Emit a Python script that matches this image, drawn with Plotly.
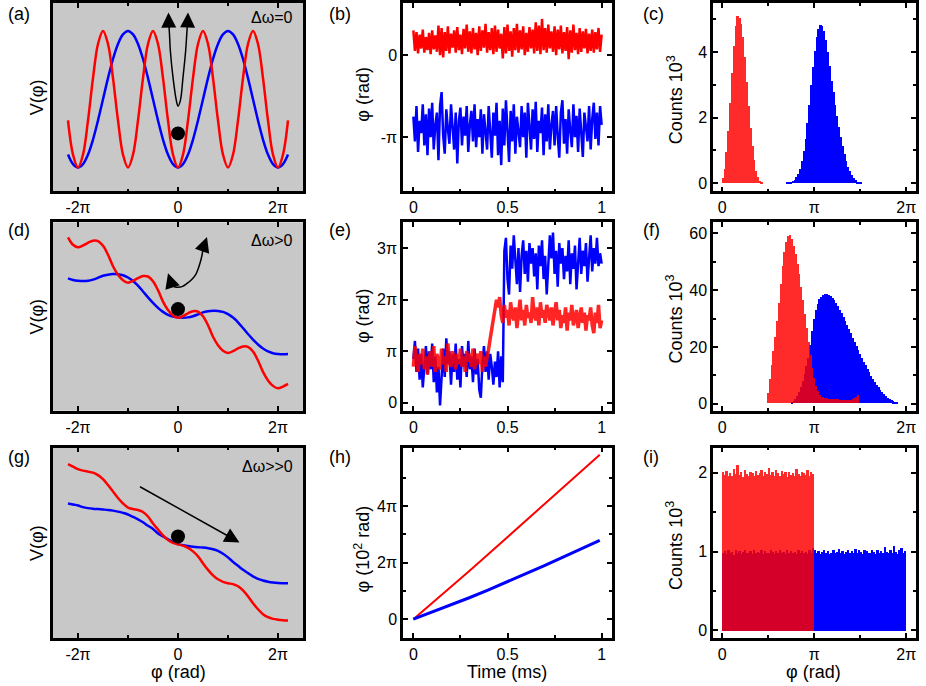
import plotly.graph_objects as go

W, H = 926, 686
FONT = "Liberation Sans, Arial, sans-serif"

# ---------------- data (phase values in units of pi) ----------------
# potential curves, sampled from phi = -2.2 pi in steps of 0.1 pi
pot_x0, pot_dx = -2.2, 0.1
pot_a_red = [0.69, 0.19,
             0, 0.19, 0.69, 1.31, 1.81, 2, 1.81, 1.31, 0.69, 0.19,
             0, 0.19, 0.69, 1.31, 1.81, 2, 1.81, 1.31, 0.69, 0.19,
             0, 0.19, 0.69, 1.31, 1.81, 2, 1.81, 1.31, 0.69, 0.19,
             0, 0.19, 0.69, 1.31, 1.81, 2, 1.81, 1.31, 0.69, 0.19,
             0, 0.19, 0.69]
pot_a_blue = [0.19, 0.05,
              0, 0.05, 0.19, 0.41, 0.69, 1, 1.31, 1.59, 1.81, 1.95,
              2, 1.95, 1.81, 1.59, 1.31, 1, 0.69, 0.41, 0.19, 0.05,
              0, 0.05, 0.19, 0.41, 0.69, 1, 1.31, 1.59, 1.81, 1.95,
              2, 1.95, 1.81, 1.59, 1.31, 1, 0.69, 0.41, 0.19, 0.05,
              0, 0.05, 0.19]
pot_d_blue = [13.29, 13.12, 13.04, 13.01, 13.04, 13.16, 13.34, 13.54, 13.65, 13.71,
              13.69, 13.59, 13.37, 13.02, 12.55, 11.97, 11.37, 10.82, 10.32, 9.92,
              9.62, 9.45, 9.37, 9.34, 9.37, 9.49, 9.67, 9.87, 9.98, 10.04,
              10.02, 9.92, 9.7, 9.35, 8.88, 8.3, 7.7, 7.15, 6.65, 6.25,
              5.95, 5.78, 5.7, 5.67, 5.7]
pot_d_red = [17.4, 16.65, 16.4, 16.58, 16.85, 17.06, 17.02, 16.55, 15.65, 14.5,
             13.65, 13.1, 12.85, 13.03, 13.3, 13.51, 13.47, 13.0, 12.1, 10.95,
             10.1, 9.55, 9.33, 9.51, 9.78, 9.99, 9.95, 9.48, 8.58, 7.43,
             6.58, 6.03, 5.8, 5.98, 6.25, 6.46, 6.42, 5.95, 5.05, 3.9,
             3.05, 2.5, 2.25, 2.43, 2.7]
pot_g_blue = [13.5, 13.4, 13.3, 13.14, 13.04, 12.98, 12.94, 12.9, 12.86, 12.79,
              12.69, 12.56, 12.4, 12.16, 11.92, 11.62, 11.27, 10.95, 10.5, 10.2,
              9.92, 9.65, 9.43, 9.32, 9.24, 9.17, 9.12, 9.08, 9.02, 8.92,
              8.75, 8.47, 8.1, 7.65, 7.25, 6.85, 6.52, 6.2, 5.95, 5.78,
              5.66, 5.58, 5.53, 5.51, 5.5]
pot_g_red = [17.45, 17.2, 16.95, 16.8, 16.7, 16.6, 16.35, 15.95, 15.35, 14.7,
             14.05, 13.5, 13.1, 12.95, 12.85, 12.65, 12.2, 11.5, 10.9, 10.3,
             9.85, 9.55, 9.4, 9.28, 9.05, 8.7, 8.2, 7.5, 6.85, 6.3,
             5.9, 5.65, 5.5, 5.42, 5.2, 4.8, 4.2, 3.5, 2.9, 2.4,
             2.1, 1.93, 1.85, 1.8, 1.77]
ball_y = [0.5, 10.2, 10.2]

# time traces, t = 0 .. 1 ms in steps of 1/120
t_dx = 1 / 120
phase_b_red = [0.30, 0.05, 0.28, 0.02, 0.25, 0.08, 0.31, 0.03, 0.22, 0.06,
               0.27, 0.01, 0.30, 0.07, 0.24, 0.04, 0.36, 0.00, 0.33, -0.03,
               0.28, 0.05, 0.35, 0.02, 0.26, 0.09, 0.30, 0.03, 0.34, 0.06,
               0.25, 0.01, 0.32, 0.08, 0.37, 0.04, 0.29, 0.02, 0.33, 0.07,
               0.27, 0.00, 0.35, 0.05, 0.30, 0.09, 0.38, 0.03, 0.28, 0.06,
               0.33, 0.01, 0.36, 0.04, 0.31, 0.08, 0.26, -0.04, 0.34, 0.02,
               0.37, 0.05, 0.29, -0.02, 0.33, 0.06, 0.38, 0.03, 0.30, 0.07,
               0.35, 0.00, 0.27, 0.04, 0.34, 0.08, 0.31, 0.02, 0.40, 0.05,
               0.36, 0.01, 0.44, 0.06, 0.33, 0.03, 0.37, 0.08, 0.29, 0.04,
               0.35, 0.00, 0.31, 0.07, 0.36, 0.02, 0.28, 0.05, 0.34, -0.05,
               0.30, 0.03, 0.37, 0.06, 0.27, 0.01, 0.33, 0.04, 0.29, 0.08,
               0.32, 0.02, 0.26, 0.05, 0.31, 0.03, 0.28, 0.07, 0.33, 0.04, 0.25]
phase_b_blue = [-0.75, -1.05, -0.62, -1.18, -0.80, -0.95, -0.60, -1.10, -0.72, -1.22,
                -0.65, -1.00, -0.58, -1.15, -0.85, -0.70, -1.28, -0.62, -0.45, -0.98,
                -1.20, -0.66, -0.90, -1.08, -0.60, -0.95, -1.15, -0.70, -1.32, -0.80,
                -0.64, -1.10, -0.75, -0.98, -0.62, -1.18, -0.85, -0.68, -1.05, -0.60,
                -1.12, -0.78, -1.00, -0.66, -1.20, -0.72, -0.95, -1.15, -0.62, -0.88,
                -1.25, -0.70, -0.98, -0.58, -1.22, -0.80, -1.34, -0.65, -1.10, -0.55,
                -0.90, -1.30, -0.68, -1.05, -0.60, -1.20, -0.75, -0.95, -1.12, -0.62,
                -1.00, -0.70, -1.25, -0.58, -0.88, -1.15, -0.66, -1.02, -0.57, -1.18,
                -0.80, -0.95, -0.64, -1.22, -0.72, -1.05, -0.60, -1.15, -0.85, -0.68,
                -1.10, -0.62, -0.98, -1.25, -0.70, -0.55, -1.08, -0.78, -1.20, -0.66,
                -0.92, -1.12, -0.60, -1.00, -0.74, -1.18, -0.65, -0.95, -1.24, -0.70,
                -0.88, -1.05, -0.62, -1.15, -0.78, -0.58, -1.02, -0.70, -1.10, -0.62, -0.85]
phase_e_blue = [0.85, 1.20, 0.60, 1.05, 0.45, 0.95, 0.30, 0.80, 1.10, 0.55,
                1.00, 0.65, 1.15, 0.40, 0.90, 0.20, 0.70, -0.05, 0.60, 1.05,
                0.50, 1.25, 0.75, 1.00, 0.35, 0.95, 0.60, 1.15, 0.45, 0.85,
                0.30, 1.10, 0.70, 0.95, 0.50, 1.20, 0.65, 0.90, 0.40, 1.05,
                0.55, 0.85, 0.25, 0.10, 0.75, 1.10, 0.60, 1.00, 0.45, 0.95,
                0.70, 0.35, 0.80, 0.50, 1.00, 0.30, 0.90, 0.40,
                2.95, 3.20, 2.40, 2.10, 3.05, 2.60, 3.25, 2.80, 2.30, 3.00,
                2.15, 2.85, 3.15, 2.50, 2.95, 2.35, 3.10, 2.70, 3.00, 2.45,
                2.90, 2.20, 3.05, 2.65, 3.15, 2.40, 2.85, 2.10, 2.60, 3.25,
                2.80, 3.30, 2.50, 2.95, 2.25, 3.10, 2.70, 3.00, 2.40, 2.85,
                2.55, 3.15, 2.30, 2.90, 2.60, 3.05, 2.20, 2.75, 3.20, 2.50,
                2.95, 2.65, 3.10, 2.35, 2.80, 3.25, 2.55, 3.00, 2.70, 3.20,
                2.65, 2.90, 2.70]
phase_e_red = [0.70, 1.10, 0.80, 0.60, 0.95, 0.75, 1.05, 0.65, 0.90, 0.55,
               0.85, 1.00, 0.70, 1.10, 0.60, 0.95, 0.80, 0.65, 1.05, 0.75,
               0.90, 0.60, 1.15, 0.80, 0.70, 1.00, 0.85, 0.65, 0.95, 0.75,
               1.05, 0.70, 0.90, 0.60, 1.00, 0.80, 0.95, 0.70, 1.05, 0.65,
               0.85, 0.95, 0.75, 1.00, 0.60, 0.90, 0.70,
               0.85, 1.05, 1.25, 1.45, 1.65, 1.85, 2.00, 1.85,
               2.05, 1.70, 1.55, 1.90, 1.65, 1.80, 1.50, 1.95, 1.70, 1.60,
               1.85, 1.45, 1.75, 2.00, 1.60, 1.80, 1.50, 1.90, 1.65, 1.75,
               1.55, 2.05, 1.70, 1.60, 1.85, 1.50, 1.95, 1.65, 1.80, 1.55,
               1.90, 1.70, 1.60, 1.85, 1.50, 1.75, 1.95, 1.60, 1.80, 1.45,
               1.70, 1.55, 1.85, 1.40, 1.75, 1.60, 1.90, 1.50, 1.70, 1.80,
               1.45, 1.65, 1.85, 1.55, 1.75, 1.40, 1.70, 1.60, 1.85, 1.50,
               1.35, 1.75, 1.55, 1.90, 1.45, 1.60]
h_dx = 0.099
phase_h_red = [0, 0.56, 1.13, 1.71, 2.29, 2.88, 3.46, 4.05, 4.64, 5.23, 5.82]
phase_h_blue = [0, 0.25, 0.5, 0.76, 1.03, 1.31, 1.6, 1.89, 2.19, 2.49, 2.79]

# histograms, bin width 0.02 pi, counts in 10^3
bin_w = 0.02
hist_c_red_x0, hist_c_blue_x0 = 0.01, 0.71
hist_c_red = [0.15, 0.45, 0.95, 1.6, 2.45, 3.35, 4.2, 4.8, 5.1, 5.05, 4.85,
              4.45, 3.85, 3.1, 2.35, 1.7, 1.15, 0.7, 0.38, 0.18, 0.07, 0.02]
hist_c_blue = [0.01, 0.02, 0.04, 0.07, 0.11, 0.18, 0.28, 0.45, 0.68, 0.98,
               1.35, 1.85, 2.4, 3.0, 3.55, 4.05, 4.45, 4.7, 4.82, 4.8,
               4.65, 4.38, 4.0, 3.58, 3.12, 2.78, 2.4, 2.05, 1.72, 1.42,
               1.15, 0.9, 0.68, 0.5, 0.36, 0.24, 0.15, 0.09, 0.05, 0.02, 0.01]
hist_f_red_x0, hist_f_blue_x0 = 0.50, 0.76
hist_f_red = [3.5, 8.5, 13.5, 18.5, 23.5, 29, 35.5, 42, 48.5, 53.5,
              57, 59, 59.4, 58, 55.5, 52.5, 49, 45.5, 41, 36.5,
              31.5, 26.5, 21.5, 17, 12.5, 9, 6, 4.2, 3.0, 2.4,
              2.1, 1.9, 1.8, 1.7, 1.6, 1.55, 1.5, 1.45, 1.4, 1.35,
              1.3, 1.3, 1.25, 1.25, 1.3, 1.35, 1.5, 1.8, 2.3, 2.8]
hist_f_blue = [0.3, 0.8, 1.6, 2.7, 4.0, 5.8, 8.0, 10.5, 13.3, 16.0,
               20.5, 25.5, 29.8, 32.8, 35, 36.6, 37.5, 38.1, 38.4, 38.5,
               38.3, 37.8, 37.1, 36.3, 35.3, 34.2, 33, 31.8, 30.5, 29.1,
               27.7, 26.2, 24.7, 23.1, 21.6, 20.1, 18.7, 17.3, 16.0, 14.7,
               13.4, 12.2, 11.0, 9.8, 8.7, 7.6, 6.6, 5.7, 4.8, 4.0,
               3.3, 2.6, 2.0, 1.5, 1.1, 0.7, 0.4, 0.2]
hist_i_x0 = 0.01
hist_i_red = [2.02, 1.98, 2.03, 1.97, 2.00, 1.96, 2.05, 1.99, 2.10, 1.98,
              2.01, 1.95, 2.04, 1.99, 1.97, 2.02, 2.00, 1.96, 2.03, 1.98,
              2.00, 2.04, 1.97, 2.01, 1.99, 2.06, 1.98, 2.02, 1.96, 2.04,
              2.00, 1.97, 2.03, 1.99, 2.01, 1.95, 2.02, 1.98, 2.00, 1.97,
              2.05, 1.99, 1.96, 2.02, 2.00, 1.98, 2.04, 1.97, 2.01, 1.99]
hist_i_blue = [0.98, 1.01, 0.97, 1.02, 0.99, 1.00, 0.96, 1.03, 0.98, 1.01,
               0.97, 1.00, 1.02, 0.98, 0.99, 1.01, 0.97, 1.03, 0.99, 1.00,
               0.98, 1.02, 0.97, 1.01, 0.99, 0.98, 1.02, 1.00, 0.97, 1.01,
               0.99, 1.03, 0.98, 1.00, 0.97, 1.02, 0.99, 1.01, 0.98, 1.00,
               0.97, 1.02, 0.99, 1.01, 0.98, 1.00, 0.97, 1.03, 0.99, 1.05,
               1.03, 0.99, 1.01, 0.97, 1.00, 1.02, 0.98, 1.01, 0.97, 0.99,
               1.02, 0.98, 1.00, 1.04, 0.99, 1.01, 0.97, 1.00, 1.03, 0.98,
               1.01, 0.99, 1.04, 0.98, 1.02, 1.00, 0.97, 1.03, 1.01, 0.98,
               0.99, 1.02, 1.00, 0.97, 1.03, 0.99, 1.01, 0.98, 1.06, 1.00,
               0.98, 1.02, 0.99, 1.07, 1.00, 0.97, 1.03, 1.05, 0.99, 1.01]

# guide arrows drawn over the potentials
arrow_a_x = [-0.187, -0.17, -0.153, -0.1, -0.033, 0, 0.047, 0.1, 0.153, 0.175, 0.193]
arrow_a_y = [2.15, 1.95, 1.71, 1.32, 0.98, 0.9, 0.98, 1.32, 1.71, 1.95, 2.15]
arrow_d_x = [-0.13, -0.08, -0.02, 0.08, 0.18, 0.28, 0.347, 0.40, 0.447, 0.48, 0.5]
arrow_d_y = [12.7, 12.45, 12.4, 12.45, 12.77, 13.2, 13.6, 14.2, 14.93, 15.6, 16.27]

pot_ticks, pot_labels = [-2, 0, 2], ["-2π", "0", "2π"]
hist_ticks, hist_labels = [0, 1, 2], ["0", "π", "2π"]
time_ticks, time_labels = [0, 0.5, 1], ["0", "0.5", "1"]

RED, BLUE = "#ff0000", "#0000ff"

# ---------------- layout geometry (pixels) ----------------
cols = [(53, 303), (403, 612), (713, 916)]
rows = [(2, 191), (222, 411), (448, 639)]


def sfx(n):
    return "" if n == 1 else str(n)


def xdom(c):
    return [cols[c][0] / W, cols[c][1] / W]


def ydom(r):
    return [1 - rows[r][1] / H, 1 - rows[r][0] / H]


def axis(domain, anchor, rng, tickvals=None, ticktext=None, minor=None):
    ax = dict(domain=domain, anchor=anchor, range=rng, showline=True, linewidth=2.5,
              linecolor="black", mirror="ticks", showgrid=False, zeroline=False,
              ticks="inside", ticklen=5, tickwidth=2, tickcolor="black",
              tickfont=dict(family=FONT, size=16, color="black"))
    if tickvals is None:
        ax.update(ticks="", showticklabels=False, mirror=True)
    else:
        ax.update(tickmode="array", tickvals=tickvals, ticktext=ticktext)
    if minor:
        ax["minor"] = dict(tickmode="array", tickvals=minor, ticks="inside", ticklen=3,
                           tickwidth=1.5, tickcolor="black")
    return ax


fig = go.Figure()


def line(y, x0, dx, color, n, width=2.5, shape="linear", opacity=1, x=None):
    tr = go.Scatter(y=y, mode="lines", line=dict(color=color, width=width, shape=shape),
                    opacity=opacity, xaxis="x" + sfx(n), yaxis="y" + sfx(n), hoverinfo="skip")
    if x is None:
        tr.update(x0=x0, dx=dx)
    else:
        tr.update(x=x)
    fig.add_trace(tr)


def bars(y, x0, color, n, opacity=1):
    fig.add_trace(go.Bar(y=y, x0=x0, dx=bin_w, width=bin_w, marker=dict(color=color, line=dict(width=0)),
                         opacity=opacity, xaxis="x" + sfx(n), yaxis="y" + sfx(n), hoverinfo="skip"))


# left column: potentials
for n, blue, red in [(1, pot_a_blue, pot_a_red), (4, pot_d_blue, pot_d_red), (7, pot_g_blue, pot_g_red)]:
    line(blue, pot_x0, pot_dx, BLUE, n, shape="spline")
    line(red, pot_x0, pot_dx, RED, n, shape="spline")
line(arrow_a_y, 0, 1, "black", 1, width=1.5, shape="spline", x=arrow_a_x)
line(arrow_d_y, 0, 1, "black", 4, width=1.5, shape="spline", x=arrow_d_x)
for n, by in zip([1, 4, 7], ball_y):
    fig.add_trace(go.Scatter(x=[0], y=[by], mode="markers", marker=dict(color="black", size=14),
                             xaxis="x" + sfx(n), yaxis="y" + sfx(n), hoverinfo="skip"))

# middle column: phase vs time
line(phase_b_red, 0, t_dx, RED, 2)
line(phase_b_blue, 0, t_dx, BLUE, 2)
line(phase_e_blue, 0, t_dx, BLUE, 5)
line(phase_e_red, 0, t_dx, RED, 5, width=3.5, opacity=0.85)
line(phase_h_red, 0, h_dx, RED, 8, width=2)
line(phase_h_blue, 0, h_dx, BLUE, 8, width=3)

# right column: histograms
bars(hist_c_blue, hist_c_blue_x0, BLUE, 3)
bars(hist_c_red, hist_c_red_x0, RED, 3, opacity=0.83)
bars(hist_f_blue, hist_f_blue_x0, BLUE, 6)
bars(hist_f_red, hist_f_red_x0, RED, 6, opacity=0.83)
bars(hist_i_blue, hist_i_x0, BLUE, 9)
bars(hist_i_red, hist_i_x0, RED, 9, opacity=0.83)

layout = dict(width=W, height=H, margin=dict(l=0, r=0, t=0, b=0), showlegend=False,
              paper_bgcolor="white", plot_bgcolor="rgba(0,0,0,0)", barmode="overlay", bargap=0,
              font=dict(family=FONT, color="black"))

pot_y = [[-0.35, 2.41], [0, 18.9], [0, 19.1]]
mid_y = [dict(rng=[-1.66, 0.634], tickvals=[-1, 0], ticktext=["-π", "0"]),
         dict(rng=[-0.155, 3.5], tickvals=[0, 1, 2, 3], ticktext=["0", "π", "2π", "3π"]),
         dict(rng=[-0.67, 6.07], tickvals=[0, 2, 4], ticktext=["0", "2π", "4π"], minor=[1, 3, 5])]
hist_y = [dict(rng=[-0.25, 5.5], tickvals=[0, 2, 4], ticktext=["0", "2", "4"], minor=[1, 3, 5]),
          dict(rng=[-2.5, 63.9], tickvals=[0, 20, 40, 60], ticktext=["0", "20", "40", "60"], minor=[10, 30, 50]),
          dict(rng=[-0.1, 2.32], tickvals=[0, 1, 2], ticktext=["0", "1", "2"], minor=[0.5, 1.5])]

shapes = []
for r in range(3):
    n = 3 * r + 1
    layout["xaxis" + sfx(n)] = axis(xdom(0), "y" + sfx(n), [-2.5, 2.5], pot_ticks, pot_labels, minor=[-1, 1])
    layout["yaxis" + sfx(n)] = axis(ydom(r), "x" + sfx(n), pot_y[r])
    shapes.append(dict(type="rect", xref="x%s domain" % sfx(n), yref="y%s domain" % sfx(n),
                       x0=0, x1=1, y0=0, y1=1, fillcolor="#c8c8c8", line=dict(width=0), layer="below"))
    n = 3 * r + 2
    layout["xaxis" + sfx(n)] = axis(xdom(1), "y" + sfx(n), [-0.055, 1.055], time_ticks, time_labels,
                                    minor=[0.25, 0.75])
    m = mid_y[r]
    layout["yaxis" + sfx(n)] = axis(ydom(r), "x" + sfx(n), m["rng"], m["tickvals"], m["ticktext"], m.get("minor"))
    n = 3 * r + 3
    layout["xaxis" + sfx(n)] = axis(xdom(2), "y" + sfx(n), [-0.1, 2.105], hist_ticks, hist_labels,
                                    minor=[0.5, 1.5])
    hy = hist_y[r]
    layout["yaxis" + sfx(n)] = axis(ydom(r), "x" + sfx(n), hy["rng"], hy["tickvals"], hy["ticktext"],
                                    hy.get("minor"))
layout["shapes"] = shapes


def text(s, px, py, size=18, angle=0, xanchor="center"):
    return dict(text=s, x=px / W, y=1 - py / H, xref="paper", yref="paper", showarrow=False,
                xanchor=xanchor, yanchor="middle", textangle=angle,
                font=dict(family=FONT, size=size, color="black"))


ann = []
for lab, px, py in [("(a)", 6, 13), ("(b)", 327, 13), ("(c)", 641, 13),
                    ("(d)", 6, 230), ("(e)", 327, 230), ("(f)", 641, 230),
                    ("(g)", 6, 457), ("(h)", 327, 457), ("(i)", 641, 457)]:
    ann.append(text(lab, px, py, size=18, xanchor="left"))
for r in range(3):
    cy = (rows[r][0] + rows[r][1]) / 2
    ann.append(text("V(φ)", 37, cy, angle=-90))
    ann.append(text("Counts 10<sup>3</sup>", 675, cy + 3, angle=-90))
ann.append(text("φ (rad)", 363, 94, angle=-90))
ann.append(text("φ (rad)", 363, 316, angle=-90))
ann.append(text("φ (10<sup>2</sup> rad)", 362, 550, angle=-90))
ann.append(text("φ (rad)", 178, 673))
ann.append(text("Time (ms)", 507, 673))
ann.append(text("φ (rad)", 813, 673))
ann.append(text("Δω=0", 295, 17, size=16, xanchor="right"))
ann.append(text("Δω>0", 295, 240, size=16, xanchor="right"))
ann.append(text("Δω>>0", 295, 467, size=16, xanchor="right"))

head = dict(text="", showarrow=True, arrowhead=2, arrowsize=2.0, arrowwidth=1.5, arrowcolor="black")
ann.append(dict(head, xref="x", yref="y", axref="x", ayref="y", x=-0.19, y=2.27, ax=-0.185, ay=2.05))
ann.append(dict(head, xref="x", yref="y", axref="x", ayref="y", x=0.2, y=2.27, ax=0.192, ay=2.05))
ann.append(dict(head, xref="x4", yref="y4", axref="x4", ayref="y4", x=-0.2, y=13.8, ax=-0.13, ay=12.7))
ann.append(dict(head, xref="x4", yref="y4", axref="x4", ayref="y4", x=0.58, y=17.43, ax=0.5, ay=16.27))
ann.append(dict(head, xref="x7", yref="y7", axref="x7", ayref="y7", x=1.23, y=9.6, ax=-0.79, ay=15.27))
layout["annotations"] = ann

fig.update_layout(layout)
# the page body has a default margin; drop it so the figure sits at the window corner
fig.write_html("out.html", config={"displayModeBar": False},
               post_script="document.body.style.margin='0px';")
